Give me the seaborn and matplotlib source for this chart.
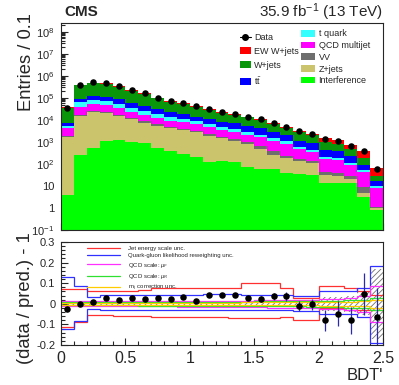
import numpy as np
import pandas as pd
import matplotlib
matplotlib.use("Agg")
import matplotlib.pyplot as plt
import seaborn as sns
from matplotlib.lines import Line2D
from matplotlib.patches import Patch
from matplotlib.ticker import MultipleLocator, LogLocator, FixedLocator, NullFormatter

# binning of BDT' (width 0.1)
edges = np.linspace(0, 2.5, 26)
centers = 0.5 * (edges[:-1] + edges[1:])

# observed events per bin
data = [3.6e4, 3.9e5, 5.1e5, 4.7e5, 3.4e5, 2.3e5, 1.6e5, 1.0e5, 7.2e4, 5.8e4,
        4.2e4, 3.2e4, 2.3e4, 1.9e4, 1.4e4, 1.07e4, 7.2e3, 5.0e3, 3.2e3, 2.3e3,
        1.4e3, 1.1e3, 680, 400, 59]

# expected yields per process
interf = [4, 260, 550, 1120, 1230, 950, 870, 550, 400, 280, 200, 126, 141, 126,
          76, 56, 60, 40, 35, 32, 13, 13, 13, 3.2, 0.81]
zjets = [1600, 14700, 21500, 18900, 13800, 9750, 6730, 4950, 3900, 3220, 2500,
         1770, 1340, 994, 714, 444, 200, 140, 95, 80, 19, 15, 7, 1.5, 0.19]
vv = [200, 2000, 3000, 2000, 2000, 1300, 900, 700, 500, 500, 300, 300, 260, 200,
      160, 130, 120, 40, 40, 28, 13, 12, 8, 4.6, 0.15]
qcd = [2400, 23000, 26000, 25000, 19000, 12000, 8500, 5800, 4500, 3900, 3200,
       2500, 1860, 1580, 1150, 970, 690, 570, 310, 210, 125, 110, 61, 35, 7.2]
tquark = [1200, 22000, 30000, 27000, 18000, 12000, 8000, 5800, 4200, 3300, 2300,
          1600, 1200, 900, 700, 500, 430, 280, 120, 100, 40, 40, 23, 10, 1.7]
ttbar = [1700, 27000, 42000, 38000, 31000, 24000, 17000, 12200, 8500, 7400, 5600,
         4400, 3500, 3100, 2600, 2100, 1300, 930, 520, 400, 230, 190, 108, 35, 6]
wjets = [27900, 281000, 357000, 328000, 235000, 150000, 108000, 65000, 46000,
         33400, 23900, 17300, 11700, 9700, 7500, 5600, 3500, 2400, 1680, 1150,
         560, 450, 280, 91, 12]
ewk = [2000, 20000, 20000, 20000, 10000, 10000, 10000, 5000, 3000, 4000, 3000,
       2000, 2000, 1400, 1100, 700, 600, 400, 400, 300, 500, 370, 240, 200, 35]

# ratio panel
ratio = [-0.024, -0.003, 0.008, 0.028, 0.019, 0.027, 0.021, 0.029, 0.023, 0.032,
         0.016, 0.045, 0.045, 0.043, 0.029, 0.024, 0.037, 0.036, -0.011, -0.003,
         -0.08, -0.048, -0.08, 0.048, -0.064]
ratio_err = [0.006, 0.003, 0.003, 0.003, 0.003, 0.004, 0.004, 0.005, 0.005, 0.006,
             0.007, 0.008, 0.009, 0.010, 0.012, 0.014, 0.017, 0.020, 0.025, 0.028,
             0.05, 0.06, 0.065, 0.10, 0.14]
mc_band = [0.008, 0.006, 0.006, 0.006, 0.006, 0.006, 0.007, 0.007, 0.008, 0.008,
           0.009, 0.010, 0.010, 0.011, 0.012, 0.013, 0.015, 0.016, 0.018, 0.02,
           0.035, 0.035, 0.04, 0.055, 0.17]
jes_up = [0.072, 0.072, 0.062, 0.062, 0.062, 0.062, 0.068, 0.075, 0.078, 0.078,
          0.078, 0.078, 0.078, 0.078, 0.10, 0.10, 0.10, 0.078, 0.03, 0.03,
          0.085, 0.085, 0.075, 0.06, 0.045]
jes_dn = [-0.112, -0.088, -0.056, -0.056, -0.058, -0.06, -0.06, -0.062, -0.065,
          -0.065, -0.065, -0.065, -0.065, -0.07, -0.07, -0.07, -0.07, -0.065,
          -0.08, -0.08, -0.02, -0.02, -0.03, -0.03, -0.03]
qgl_up = [0.128, 0.088, 0.032, 0.045, 0.045, 0.045, 0.045, 0.045, 0.045, 0.045,
          0.045, 0.048, 0.048, 0.048, 0.045, 0.045, 0.045, 0.042, 0.04, 0.04,
          0.06, 0.06, 0.06, 0.075, 0.185]
qgl_dn = [-0.12, -0.085, -0.024, -0.03, -0.03, -0.032, -0.032, -0.032, -0.032,
          -0.032, -0.03, -0.028, -0.028, -0.028, -0.03, -0.03, -0.03, -0.032,
          -0.035, -0.035, -0.05, -0.05, -0.05, -0.065, -0.19]
muf_up = [0.012, 0.012, 0.012, 0.012, 0.012, 0.012, 0.013, 0.013, 0.013, 0.014,
          0.014, 0.015, 0.015, 0.016, 0.016, 0.017, 0.018, 0.02, 0.02, 0.02,
          0.025, 0.025, 0.03, 0.04, 0.085]
muf_dn = [-0.012, -0.012, -0.012, -0.012, -0.012, -0.012, -0.013, -0.013, -0.013,
          -0.014, -0.014, -0.015, -0.015, -0.016, -0.016, -0.017, -0.018, -0.02,
          -0.02, -0.02, -0.025, -0.025, -0.03, -0.04, -0.09]
mur_up = [0.008, 0.008, 0.008, 0.008, 0.008, 0.008, 0.009, 0.009, 0.009, 0.01,
          0.01, 0.01, 0.01, 0.011, 0.011, 0.012, 0.012, 0.013, 0.013, 0.014,
          0.015, 0.015, 0.018, 0.02, 0.03]
mur_dn = [-0.008, -0.008, -0.008, -0.008, -0.008, -0.008, -0.009, -0.009, -0.009,
          -0.01, -0.01, -0.01, -0.01, -0.011, -0.011, -0.012, -0.012, -0.013,
          -0.013, -0.014, -0.015, -0.015, -0.018, -0.02, -0.03]
mjj_up = [0.004, 0.004, 0.004, 0.004, 0.004, 0.004, 0.005, 0.005, 0.005, 0.005,
          0.006, 0.006, 0.006, 0.006, 0.007, 0.007, 0.007, 0.008, 0.008, 0.008,
          0.01, 0.01, 0.01, 0.012, 0.02]
mjj_dn = [-0.004, -0.004, -0.004, -0.004, -0.004, -0.004, -0.005, -0.005, -0.005,
          -0.005, -0.006, -0.006, -0.006, -0.006, -0.007, -0.007, -0.007, -0.008,
          -0.008, -0.008, -0.01, -0.01, -0.01, -0.012, -0.02]

sns.set_style("ticks")
plt.rcParams["font.family"] = ["Liberation Sans", "DejaVu Sans"]
plt.rcParams["mathtext.fontset"] = "custom"
plt.rcParams["mathtext.rm"] = "Liberation Sans"
plt.rcParams["mathtext.it"] = "Liberation Sans:italic"
plt.rcParams["hatch.linewidth"] = 0.6

procs = [("EW W+jets", ewk, "#ff0000"),
         ("W+jets", wjets, "#0a960a"),
         ("t$\\bar{\\mathrm{t}}$", ttbar, "#0000ff"),
         ("t quark", tquark, "#33ffff"),
         ("QCD multijet", qcd, "#ff00ff"),
         ("VV", vv, "#6e6e6e"),
         ("Z+jets", zjets, "#cbc46c"),
         ("Interference", interf, "#00ff00")]

rows = []
for name, vals, col in procs:
    for c, v in zip(centers, vals):
        rows.append((c, v, name))
df = pd.DataFrame(rows, columns=["bdt", "n", "proc"])
pal = {name: col for name, vals, col in procs}

fig = plt.figure(figsize=(3.99, 3.85), dpi=100)
ax1 = fig.add_axes([0.153, 0.4026, 0.807, 0.5374])
ax2 = fig.add_axes([0.153, 0.1039, 0.807, 0.2675])

sns.histplot(df, x="bdt", weights="n", hue="proc",
             hue_order=[p[0] for p in procs], multiple="stack",
             bins=[float(e) for e in edges],
             element="step", palette=pal, alpha=1, linewidth=0,
             legend=False, ax=ax1)
sns.scatterplot(x=centers, y=data, color="black", s=22, linewidth=0,
                ax=ax1, zorder=5)

ax1.set_yscale("log")
ax1.set_xlim(0, 2.5)
ax1.set_ylim(0.1, 2.5e8)
ax1.set_xlabel("")
ax1.set_ylabel("")
ax1.yaxis.set_major_locator(FixedLocator([10.0 ** k for k in range(-1, 9)]))
ax1.set_yticklabels(["$10^{-1}$", "1", "10"] + ["$10^{%d}$" % k for k in range(2, 9)])
ax1.yaxis.set_minor_locator(LogLocator(base=10, subs=np.arange(2, 10), numticks=20))
ax1.yaxis.set_minor_formatter(NullFormatter())
ax1.xaxis.set_major_locator(MultipleLocator(0.5))
ax1.xaxis.set_minor_locator(MultipleLocator(0.1))
ax1.tick_params(labelbottom=False)

# ratio panel
band = np.array(mc_band)
ax2.stairs(band, edges, baseline=-band, fill=True, hatch="//////",
           facecolor="none", edgecolor="#707070", linewidth=0)
systs = [(jes_up, jes_dn, "#ff3030", "Jet energy scale unc."),
         (qgl_up, qgl_dn, "#3030ff", "Quark-gluon likelihood reweighting unc."),
         (muf_up, muf_dn, "#ff30ff", "QCD scale: $\\mu_{F}$"),
         (mur_up, mur_dn, "#30e030", "QCD scale: $\\mu_{R}$"),
         (mjj_up, mjj_dn, "#ffcc00", "m$_{\\mathrm{jj}}$ correction unc.")]
for up, dn, col, lab in systs:
    ax2.stairs(up, edges, baseline=None, color=col, lw=0.9)
    ax2.stairs(dn, edges, baseline=None, color=col, lw=0.9)
ax2.errorbar(centers, ratio, yerr=ratio_err, fmt="none", ecolor="#2a2ab0",
             elinewidth=0.9, zorder=4)
sns.scatterplot(x=centers, y=ratio, color="black", s=22, linewidth=0,
                ax=ax2, zorder=5)
ax2.set_xlim(0, 2.5)
ax2.set_ylim(-0.2, 0.3)
ax2.xaxis.set_major_locator(MultipleLocator(0.5))
ax2.xaxis.set_minor_locator(MultipleLocator(0.1))
ax2.yaxis.set_major_locator(MultipleLocator(0.1))
ax2.yaxis.set_minor_locator(MultipleLocator(0.02))
ax2.set_xticks([0, 0.5, 1, 1.5, 2, 2.5])
ax2.set_xticklabels(["0", "0.5", "1", "1.5", "2", "2.5"])
ax2.set_yticks([-0.2, -0.1, 0, 0.1, 0.2, 0.3])
ax2.set_yticklabels(["-0.2", "-0.1", "0", "0.1", "0.2", "0.3"])

for ax in (ax1, ax2):
    ax.tick_params(which="both", direction="in", top=False, right=False, width=0.8)
    ax.tick_params(which="major", length=5)
    ax.tick_params(which="minor", length=2.8)
    for s in ax.spines.values():
        s.set_linewidth(0.8)
ax1.tick_params(axis="y", labelsize=8, pad=5)
ax2.tick_params(axis="y", labelsize=8, pad=4)
ax2.tick_params(axis="x", labelsize=11.5, pad=4)

# titles and axis labels
fig.text(64 / 399, 1 - 12 / 385, "CMS", fontsize=11, fontweight="bold", va="center")
fig.text(383 / 399, 1 - 12 / 385, "35.9 fb$^{-1}$ (13 TeV)", fontsize=11,
         ha="right", va="center")
fig.text(27 / 399, 1 - 13 / 385, "Entries / 0.1", fontsize=13.2, rotation=90,
         ha="center", va="top")
fig.text(26 / 399, 1 - 232 / 385, "(data / pred.) - 1", fontsize=13.2, rotation=90,
         ha="center", va="top")
fig.text(383 / 399, 1 - 375 / 385, "BDT'", fontsize=12, ha="right", va="center")

# legends of the upper panel
h_left = [Line2D([], [], color="black", marker="o", markersize=4, lw=0.8)]
h_left += [Patch(facecolor=procs[i][2], edgecolor="none") for i in range(3)]
l_left = ["Data"] + [procs[i][0] for i in range(3)]
leg1 = ax1.legend(h_left, l_left, loc="upper left", frameon=False, fontsize=6.5,
                  bbox_to_anchor=(240 / 399, 1 - 33 / 385),
                  bbox_transform=fig.transFigure, borderaxespad=0, borderpad=0,
                  handlelength=1.2, handleheight=0.85, handletextpad=0.35,
                  labelspacing=0.55)
ax1.add_artist(leg1)
h_right = [Patch(facecolor=procs[i][2], edgecolor="none") for i in range(3, 8)]
l_right = [procs[i][0] for i in range(3, 8)]
ax1.legend(h_right, l_right, loc="upper left", frameon=False, fontsize=6.5,
           bbox_to_anchor=(301 / 399, 1 - 29.5 / 385),
           bbox_transform=fig.transFigure, borderaxespad=0, borderpad=0,
           handlelength=1.6, handleheight=0.75, handletextpad=0.35,
           labelspacing=0.3)

# legend of the ratio panel
h_sys = [Line2D([], [], color=col, lw=0.9) for up, dn, col, lab in systs]
l_sys = [lab for up, dn, col, lab in systs]
ax2.legend(h_sys, l_sys, loc="upper left", frameon=False, fontsize=4.3,
           bbox_to_anchor=(87 / 399, 1 - 246 / 385),
           bbox_transform=fig.transFigure, borderaxespad=0, borderpad=0,
           handlelength=5.5, handletextpad=1.4, labelspacing=0.35)

fig.savefig("out.png", dpi=100)
